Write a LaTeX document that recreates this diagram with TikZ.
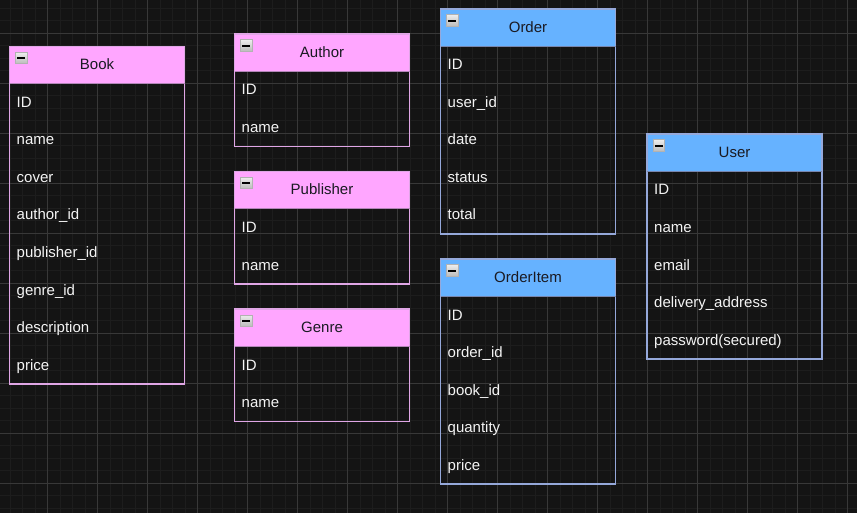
\documentclass[tikz,border=0pt]{standalone}
\usepackage{fontspec}
\setmainfont{Liberation Sans}
\definecolor{bgc}{HTML}{141414}
\definecolor{minorc}{HTML}{1D1D1D}
\definecolor{majorc}{HTML}{383838}
\definecolor{pinkH}{HTML}{FFA6FF}
\definecolor{pinkB}{HTML}{E0A6E6}
\definecolor{blueH}{HTML}{66B2FF}
\definecolor{blueB}{HTML}{95A8DA}
\definecolor{hdrtxt}{HTML}{1A1A22}
\definecolor{rowtxt}{HTML}{F4F4F4}
\tikzset{
  minorgrid/.style={minorc, line width=1},
  majorgrid/.style={majorc, line width=1},
  titletext/.style={text=hdrtxt, font=\fontsize{15}{18}\selectfont, inner sep=0, anchor=base},
  rowtext/.style={text=rowtxt, font=\fontsize{15}{18}\selectfont, inner sep=0, anchor=base west},
  iconbox/.style={draw=gray!60, top color=gray!15, bottom color=gray!55, line width=1,
                  minimum width=11.5, minimum height=11.5, inner sep=0, anchor=north west},
}
% #1 name, #2 x, #3 y, #4 title, #5 header fill, #6 border, #7 number of rows, #8 rows
\newcommand\erbox[8]{%
  \fill[#5] (#2,#3) rectangle ++(175,37.5);
  \draw[#6, line width=1.2] (#2,#3) rectangle ++(175,{37.5*(#7+1)});
  \draw[#6!80!black, line width=1] (#2,#3+37.5) -- ++(175,0);
  \node[titletext] (#1) at (#2+87.5,#3+23.5) {#4};
  \node[iconbox] (#1-icon) at (#2+5.5,#3+5.5) {};
  \draw[black, line width=1.6] ([xshift=2.2]#1-icon.west) -- ([xshift=-2.2]#1-icon.east);
  \foreach \r [count=\k] in {#8} {
    \node[rowtext] (#1-\k) at (#2+7,{#3+37.5*\k+23.5}) {\r};
  }
}
\begin{document}
\begin{tikzpicture}[x=1pt,y=-1pt]
\fill[bgc] (0,0) rectangle (857,513);
\useasboundingbox (0,0) rectangle (857,513);
\foreach \i in {0,...,68} { \draw[minorgrid] ({10+12.5*\i},0) -- ++(0,513); }
\foreach \j in {0,...,40} { \draw[minorgrid] (0,{8.3+12.5*\j}) -- ++(857,0); }
\foreach \i in {0,...,16} { \draw[majorgrid] ({47.5+50*\i},0) -- ++(0,513); }
\foreach \j in {0,...,9} { \draw[majorgrid] (0,{33.3+50*\j}) -- ++(857,0); }

\erbox{book}{9.5}{46.5}{Book}{pinkH}{pinkB}{8}{ID,name,cover,author\_id,publisher\_id,genre\_id,description,price}
\erbox{author}{234.5}{34}{Author}{pinkH}{pinkB}{2}{ID,name}
\erbox{publisher}{234.5}{171.5}{Publisher}{pinkH}{pinkB}{2}{ID,name}
\erbox{genre}{234.5}{309}{Genre}{pinkH}{pinkB}{2}{ID,name}
\erbox{order}{440.5}{9}{Order}{blueH}{blueB}{5}{ID,user\_id,date,status,total}
\erbox{orderitem}{440.5}{259}{OrderItem}{blueH}{blueB}{5}{ID,order\_id,book\_id,quantity,price}
\erbox{user}{647}{134}{User}{blueH}{blueB}{5}{ID,name,email,delivery\_address,password(secured)}
\end{tikzpicture}
\end{document}
